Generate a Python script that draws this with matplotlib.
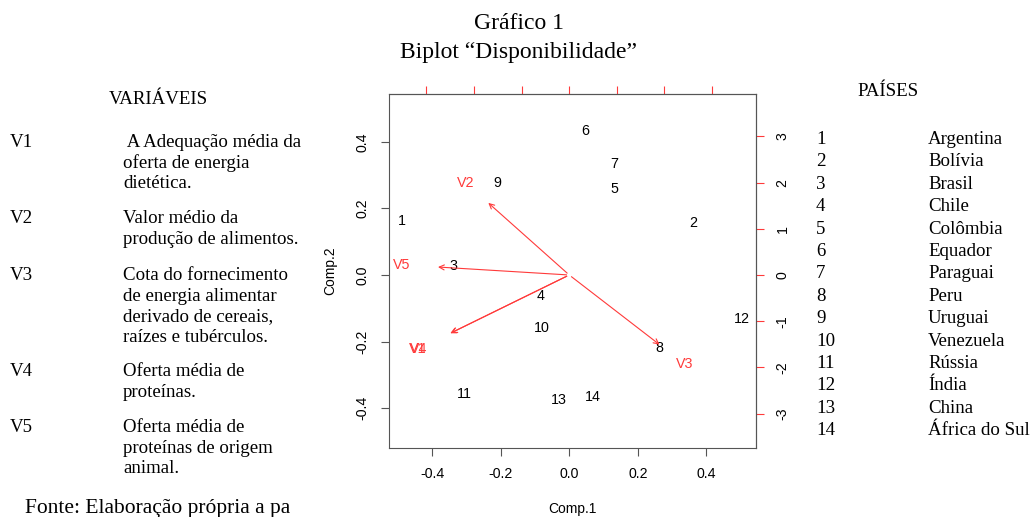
import matplotlib
matplotlib.use("Agg")
import matplotlib.pyplot as plt

# scores (Comp.1, Comp.2) for each country, labelled by number
pontos = ["1", "2", "3", "4", "5", "6", "7", "8", "9", "10", "11", "12", "13", "14"]
comp1 = [-0.489, 0.362, -0.339, -0.083, 0.131, 0.047, 0.130, 0.262, -0.209,
         -0.080, -0.307, 0.504, -0.030, 0.068]
comp2 = [0.162, 0.157, 0.028, -0.063, 0.258, 0.434, 0.333, -0.220, 0.276,
         -0.158, -0.359, -0.131, -0.376, -0.367]

# loadings (top / right scale)
variaveis = ["V1", "V2", "V3", "V4", "V5"]
load1 = [-3.19, -2.18, 2.43, -3.17, -3.52]
load2 = [-1.61, 2.00, -1.93, -1.60, 0.22]

descricoes = [
    " A Adequação média da\noferta de energia\ndietética.",
    "Valor médio da\nprodução de alimentos.",
    "Cota do fornecimento\nde energia alimentar\nderivado de cereais,\nraízes e tubérculos.",
    "Oferta média de\nproteínas.",
    "Oferta média de\nproteínas de origem\nanimal.",
]
desc_y = [141, 217, 274, 370, 426]

paises = ["Argentina", "Bolívia", "Brasil", "Chile", "Colômbia", "Equador",
          "Paraguai", "Peru", "Uruguai", "Venezuela", "Rússia", "Índia",
          "China", "África do Sul"]

escala = 7.2
W, H = 1032, 517
serif = "Liberation Serif"
sans = "Liberation Sans"
fs = 13.6


def px(x, y):
    return x / W, 1 - y / H


fig = plt.figure(figsize=(W / 100, H / 100), dpi=100)
ax = fig.add_axes([389 / W, 1 - 448 / H, (756 - 389) / W, (448 - 94) / H])

for lab, x, y in zip(pontos, comp1, comp2):
    ax.text(x, y, lab, ha="center", va="center", fontsize=10.3, family=sans)

red = "#ff3a3a"
for lab, x, y in zip(variaveis, load1, load2):
    ax.annotate("", xy=(0.8 * x / escala, 0.8 * y / escala), xytext=(0, 0),
                arrowprops=dict(arrowstyle="->", color=red, lw=0.8,
                                mutation_scale=9))
    ax.text(x / escala, y / escala, lab, ha="center", va="center",
            fontsize=10.3, color=red, family=sans)

ax.set_xlim(-0.526, 0.545)
ax.set_ylim(-0.520, 0.544)
ax.set_xticks([-0.4, -0.2, 0.0, 0.2, 0.4])
ax.set_yticks([-0.4, -0.2, 0.0, 0.2, 0.4])
ax.set_xticklabels(["-0.4", "-0.2", "0.0", "0.2", "0.4"])
ax.set_yticklabels(["-0.4", "-0.2", "0.0", "0.2", "0.4"], rotation=90,
                   va="center")
ax.tick_params(length=6, color="#555555", labelsize=10.2, pad=8)
for lbl in ax.get_xticklabels() + ax.get_yticklabels():
    lbl.set_family(sans)
for s in ax.spines.values():
    s.set_color("#555555")
ax.set_xlabel("Comp.1", family=sans, fontsize=10, labelpad=15)
ax.set_ylabel("Comp.2", family=sans, fontsize=10, labelpad=13)

top = ax.secondary_xaxis("top", functions=(lambda v: v * escala,
                                           lambda v: v / escala))
top.set_xticks([-3, -2, -1, 0, 1, 2, 3])
top.set_xticklabels([])
top.tick_params(length=6, color=red)
top.spines["top"].set_color("#555555")

right = ax.secondary_yaxis("right", functions=(lambda v: v * escala,
                                               lambda v: v / escala))
right.set_yticks([-3, -2, -1, 0, 1, 2, 3])
right.set_yticklabels(["-3", "-2", "-1", "0", "1", "2", "3"], rotation=90,
                      va="center", family=sans)
right.tick_params(length=6, color=red, labelsize=10.2, pad=8)
right.spines["right"].set_color("#555555")

# title
fig.text(*px(519, 29), "Gráfico 1", ha="center", va="baseline",
         family=serif, fontsize=17)
fig.text(*px(519, 58), "Biplot \u201cDisponibilidade\u201d", ha="center",
         va="baseline", family=serif, fontsize=17)

# left panel: variables
fig.text(*px(158, 104), "VARIÁVEIS", ha="center", va="baseline",
         family=serif, fontsize=fs)
for v, d, y0 in zip(variaveis, descricoes, desc_y):
    fig.text(*px(10, y0 + 6), v, ha="left", va="baseline", family=serif,
             fontsize=fs)
    for k, linha in enumerate(d.split("\n")):
        fig.text(*px(123, y0 + 6 + k * 20.7), linha, ha="left",
                 va="baseline", family=serif, fontsize=fs)

# right panel: countries
fig.text(*px(888, 96), "PAÍSES", ha="center", va="baseline", family=serif,
         fontsize=fs)
for i, (n, p) in enumerate(zip(pontos, paises)):
    y = 144 + i * 22.4
    fig.text(*px(816, y), n, ha="left", va="baseline", family=serif,
             fontsize=fs)
    fig.text(*px(928, y), p, ha="left", va="baseline", family=serif,
             fontsize=fs)

fig.text(*px(25, 513), "Fonte: Elaboração própria a pa", ha="left",
         va="baseline", family=serif, fontsize=15.5)

fig.savefig("out.png", dpi=100)
